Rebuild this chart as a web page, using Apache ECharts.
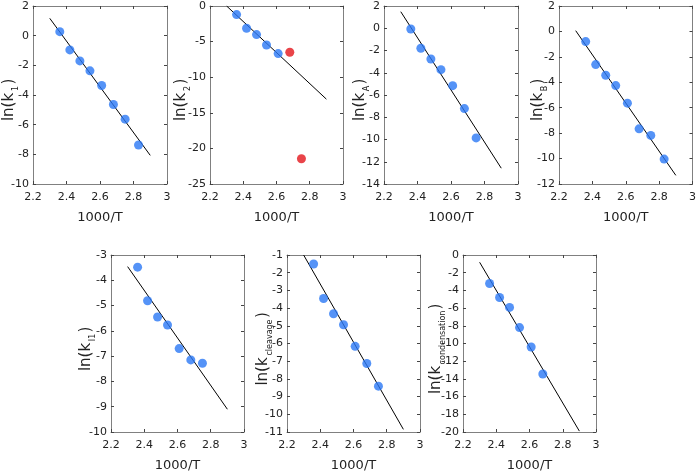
<!DOCTYPE html>
<html>
<head>
<meta charset="utf-8">
<script src="https://cdn.jsdelivr.net/npm/echarts@6/dist/echarts.min.js"></script>
<style>
  html, body { margin: 0; padding: 0; background: #fff; }
  #chart { width: 699px; height: 473px; }
</style>
</head>
<body>
<div id="chart"></div>
<script>
// 1000/T values (same temperatures in every panel)
var invT = [2.36, 2.42, 2.48, 2.54, 2.61, 2.68, 2.75, 2.83];

var lnK1 = [0.27, -0.96, -1.7, -2.37, -3.36, -4.64, -5.63, -7.37];
var lnK2 = [-1.21, -3.13, -4.02, -5.47, -6.68];
var lnK2Outliers = [-6.5, -21.45];
var lnKA = [-0.07, -1.8, -2.76, -3.72, -5.16, -7.22, -9.86];
var lnKB = [-0.8, -2.61, -3.45, -4.26, -5.64, -7.66, -8.18, -10.04];
var lnKI1 = [-3.48, -4.81, -5.45, -5.77, -6.7, -7.15, -7.28];
var lnKcleavage = [-1.51, -3.46, -4.32, -4.94, -6.16, -7.13, -8.41];
var lnKcondensation = [-3.22, -4.8, -5.92, -8.2, -10.4, -13.45];

// fitted lines: y at 1000/T = 2.3 and 2.9
var fitX = [2.3, 2.9];
var fitK1 = [1.17, -8.07];
var fitK2 = [0, -13.08];
var fitKA = [1.49, -12.58];
var fitKB = [0.06, -11.32];
var fitKI1 = [-3.46, -9.1];
var fitKcleavage = [-1, -10.85];
var fitKcondensation = [-0.82, -19.9];

var xTicks = [2.2, 2.4, 2.6, 2.8, 3];

function zip(xs, ys) {
  return ys.map(function (y, i) { return [xs[i], y]; });
}

// box = [left, top, width, height]; titleX = centre of the rotated y title
var panels = [
  { sub: '1', y: lnK1, fit: fitK1, min: -10, max: 2, step: 2, box: [33, 6, 134, 178], titleX: 9 },
  { sub: '2', y: lnK2, fit: fitK2, min: -25, max: 0, step: 5, box: [210, 6, 133, 178], titleX: 181,
    red: zip(invT.slice(5), lnK2Outliers) },
  { sub: 'A', y: lnKA, fit: fitKA, min: -14, max: 2, step: 2, box: [384, 6, 134, 178], titleX: 360 },
  { sub: 'B', y: lnKB, fit: fitKB, min: -12, max: 2, step: 2, box: [559, 6, 135, 178], titleX: 538 },
  { sub: 'I1', y: lnKI1, fit: fitKI1, min: -10, max: -3, step: 1, box: [111, 255, 133, 178], titleX: 86 },
  { sub: 'cleavage', y: lnKcleavage, fit: fitKcleavage, min: -11, max: -1, step: 1, box: [287, 255, 133, 178], titleX: 263 },
  { sub: 'condensation', y: lnKcondensation, fit: fitKcondensation, min: -20, max: 0, step: 2, box: [463, 255, 133, 178], titleX: 436 }
];

var font = 'DejaVu Sans';
var frame = '#808080';
var grid = [], xAxis = [], yAxis = [], series = [], graphic = [];

// measure subscript widths ourselves so the closing bracket lands right
var measureCtx = document.createElement('canvas').getContext('2d');
function textWidth(txt, size) {
  measureCtx.font = size + 'px "' + font + '"';
  return Math.ceil(measureCtx.measureText(txt).width) + 1;
}

panels.forEach(function (p, i) {
  grid.push({ left: p.box[0], top: p.box[1], width: p.box[2], height: p.box[3] });

  var xBase = {
    gridIndex: i, type: 'value', min: xTicks[0], max: xTicks[xTicks.length - 1], interval: 0.2,
    axisLine: { show: true, onZero: false, lineStyle: { color: frame, width: 1 } },
    axisTick: { show: true, inside: true, length: 3, lineStyle: { color: '#444' } },
    splitLine: { show: false }
  };
  xAxis.push(Object.assign({}, xBase, {
    position: 'bottom',
    name: '1000/T', nameLocation: 'middle', nameGap: 27, nameMoveOverlap: false,
    nameTextStyle: { fontFamily: font, fontSize: 13, color: '#222' },
    axisLabel: { fontFamily: font, fontSize: 11, color: '#222', margin: 8 }
  }));
  xAxis.push(Object.assign({}, xBase, { position: 'top', axisLabel: { show: false } }));

  var yBase = {
    gridIndex: i, type: 'value', min: p.min, max: p.max, interval: p.step,
    axisLine: { show: true, onZero: false, lineStyle: { color: frame, width: 1 } },
    axisTick: { show: true, inside: true, length: 3, lineStyle: { color: '#444' } },
    splitLine: { show: false }
  };
  yAxis.push(Object.assign({}, yBase, {
    position: 'left',
    axisLabel: { fontFamily: font, fontSize: 11, color: '#222', margin: 4 }
  }));
  yAxis.push(Object.assign({}, yBase, { position: 'right', axisLabel: { show: false } }));

  // rotated y-axis title with subscript
  graphic.push({
    type: 'text',
    x: p.titleX,
    y: p.box[1] + p.box[3] / 2 + 5,
    rotation: Math.PI / 2,
    silent: true,
    style: {
      text: '{a|ln(k}{s|' + p.sub + '}{b|)}',
      rich: {
        a: { fontFamily: font, fontSize: 15, fill: '#222', lineHeight: 15, verticalAlign: 'top',
             width: textWidth('ln(k', 15) },
        s: { fontFamily: font, fontSize: 8, fill: '#222', lineHeight: 8, verticalAlign: 'top',
             padding: [10, 0, 0, 0], width: textWidth(p.sub, 8) },
        b: { fontFamily: font, fontSize: 15, fill: '#222', lineHeight: 15, verticalAlign: 'top',
             width: textWidth(')', 15) }
      },
      align: 'center',
      verticalAlign: 'middle'
    }
  });

  series.push({
    type: 'line', xAxisIndex: 2 * i, yAxisIndex: 2 * i,
    data: zip(fitX, p.fit), showSymbol: false, symbol: 'none',
    lineStyle: { color: '#000', width: 1 }, z: 2, silent: true
  });
  series.push({
    type: 'scatter', xAxisIndex: 2 * i, yAxisIndex: 2 * i,
    data: zip(invT, p.y), symbolSize: 9,
    itemStyle: { color: '#2a78f5' }, z: 3
  });
  if (p.red) {
    series.push({
      type: 'scatter', xAxisIndex: 2 * i, yAxisIndex: 2 * i,
      data: p.red, symbolSize: 9,
      itemStyle: { color: '#e3151c' }, z: 3
    });
  }
});

var chart = echarts.init(document.getElementById('chart'), null, { renderer: 'canvas' });
chart.setOption({
  animation: false,
  backgroundColor: '#fff',
  grid: grid,
  xAxis: xAxis,
  yAxis: yAxis,
  series: series,
  graphic: graphic
});
</script>
</body>
</html>
